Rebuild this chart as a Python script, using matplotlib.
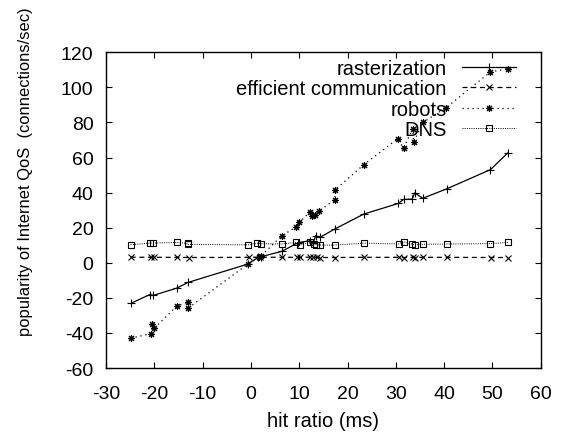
import matplotlib
matplotlib.use("Agg")
import matplotlib.pyplot as plt

plt.rcParams['font.family'] = ['Liberation Sans', 'DejaVu Sans']
plt.rcParams['axes.unicode_minus'] = False

# ---- data ----
rast_x = [-24.9, -20.9, -20.2, -15.4, -13.0, -0.6, 1.5, 2.0, 6.4, 9.8, 12.3, 12.9,
          13.4, 14.3, 17.4, 23.4, 30.5, 31.6, 33.4, 33.9, 35.6, 40.5, 49.6, 53.2]
rast_y = [-23.2, -18.1, -18.6, -14.5, -11.2, -0.7, 3.1, 3.4, 6.5, 11.5, 12.6, 11.5,
          15.4, 14.5, 19.3, 27.8, 33.8, 36.1, 36.3, 39.8, 36.8, 42.1, 53.1, 62.7]

eff_x = [-24.9, -20.7, -20.1, -15.4, -12.9, -0.3, 1.8, 6.5, 9.5, 10.1, 12.2, 12.9,
         13.6, 14.3, 17.4, 23.4, 30.7, 31.7, 33.6, 33.9, 35.7, 40.5, 49.8, 53.2]
eff_y = [3.2, 3.1, 3.1, 3.1, 3.0, 3.1, 3.2, 3.1, 3.1, 3.1, 3.2, 3.1,
         3.1, 3.0, 3.0, 3.1, 3.1, 3.0, 3.1, 3.0, 3.1, 3.1, 3.0, 3.0]

rob_x = [-24.9, -20.7, -20.4, -20.0, -15.4, -13.0, -13.0, -0.6, 1.7, 2.0, 6.4, 9.4,
         10.0, 12.2, 12.6, 13.2, 14.2, 17.4, 17.4, 23.4, 30.4, 31.6, 33.5, 33.7,
         35.6, 40.4, 49.6, 53.2]
rob_y = [-43.0, -40.4, -35.0, -37.3, -24.9, -22.3, -25.9, -0.7, 3.1, 3.6, 15.4, 20.5,
         23.0, 28.8, 26.9, 27.3, 29.7, 36.0, 41.5, 56.0, 70.7, 65.4, 76.4, 68.8,
         80.0, 88.4, 108.8, 110.7]

dns_x = [-24.9, -20.9, -20.2, -15.4, -13.0, -13.0, -0.6, 1.3, 2.0, 6.4, 9.4, 10.1,
         12.2, 13.0, 13.5, 14.3, 17.4, 23.4, 30.6, 31.6, 33.4, 33.9, 35.6, 40.5,
         49.6, 53.2]
dns_y = [10.3, 11.2, 11.2, 11.6, 11.0, 10.5, 10.2, 11.1, 10.9, 10.7, 11.6, 10.1,
         11.6, 10.7, 10.3, 10.1, 10.1, 11.2, 10.7, 12.0, 10.6, 10.2, 10.5, 10.7,
         10.9, 11.6]

labels = ["rasterization", "efficient communication", "robots", "DNS"]
x_ticks = [-30, -20, -10, 0, 10, 20, 30, 40, 50, 60]
y_ticks = [-60, -40, -20, 0, 20, 40, 60, 80, 100, 120]

fig = plt.figure(figsize=(5.61, 4.35), dpi=100)
ax = fig.add_axes([106/561, 66/435, 434.7/561, 315.7/435])

ax.plot(rast_x, rast_y, color='black', lw=0.9, ls='-', marker='+', ms=5.5,
        mew=0.8, label=labels[0])
ax.plot(eff_x, eff_y, color='black', lw=0.9, ls=(0, (4, 3)), marker='x', ms=4,
        mew=0.8, label=labels[1])
ax.plot(rob_x, rob_y, color='black', lw=0.9, ls=(0, (1, 3)), marker=(8, 2, 0), ms=5,
        mew=0.8, label=labels[2])
ax.plot(dns_x, dns_y, color='black', lw=0.7, ls=(0, (1, 1.3)), marker='s', ms=4.5,
        mew=0.8, mfc='none', label=labels[3])

ax.set_xlim(-30, 60)
ax.set_ylim(-60, 120)
ax.set_xticks(x_ticks)
ax.set_yticks(y_ticks)
ax.tick_params(direction='in', top=True, right=True, length=4, width=0.8,
               labelsize=14)
ax.tick_params(axis='x', pad=12)
ax.tick_params(axis='y', pad=9)
for s in ax.spines.values():
    s.set_linewidth(1.0)

ax.set_xlabel("hit ratio (ms)", fontsize=14.5)
ax.set_ylabel("popularity of Internet QoS  (connections/sec)", fontsize=11.9)
ax.xaxis.set_label_coords(0.5, -0.137)
ax.yaxis.set_label_coords(-0.168, 0.624)

leg = ax.legend(loc='upper right', bbox_to_anchor=(0.943, 0.98), frameon=False,
                markerfirst=False, fontsize=14.5, handlelength=2.7,
                handletextpad=0.75, labelspacing=0.08, borderpad=0,
                borderaxespad=0, numpoints=1)

fig.savefig("out.png", dpi=100)
